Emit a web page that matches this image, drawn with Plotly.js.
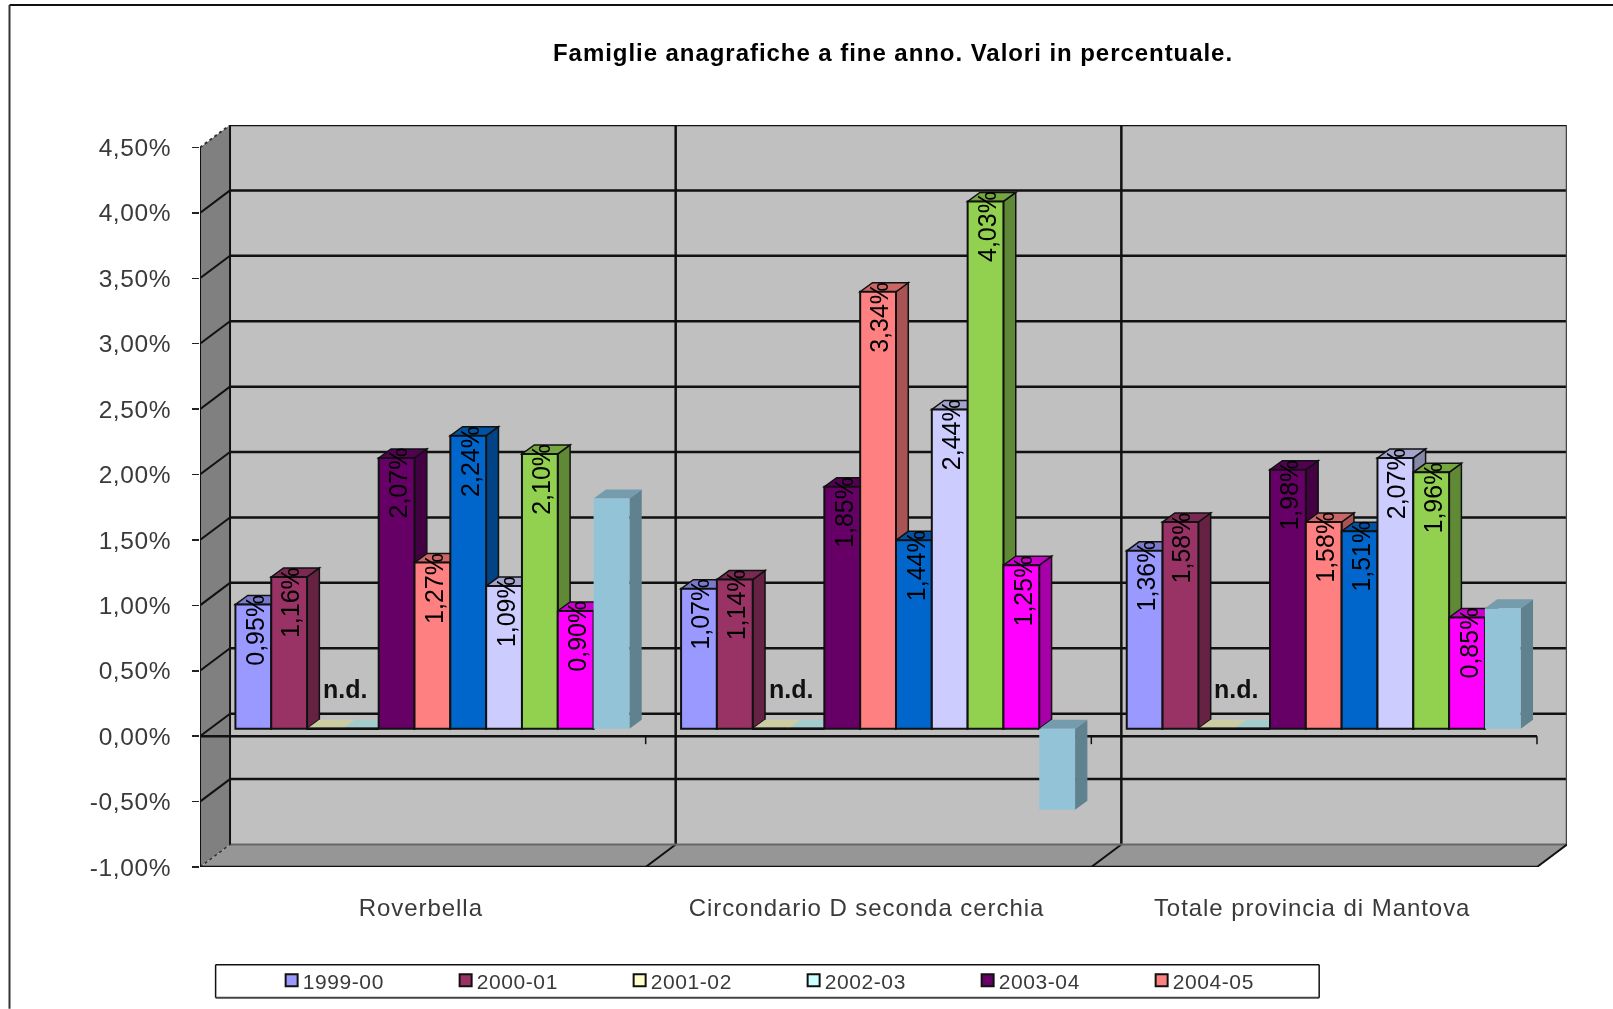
<!DOCTYPE html>
<html><head><meta charset="utf-8">
<script src="https://cdn.plot.ly/plotly-3.0.1.min.js"></script>
<style>html,body{margin:0;padding:0;background:#fff;overflow:hidden}#chart{width:1613px;height:1009px;filter:blur(0.45px)}
#chart .gtitle{letter-spacing:.95px}
#chart .xtick text{letter-spacing:.95px}
#chart .ytick text{letter-spacing:.6px}
#chart .legendtext{letter-spacing:.6px;transform:translateX(-9px)}
</style>
</head><body><div id="chart"></div>
<script>
const categories = ["Roverbella", "Circondario D seconda cerchia", "Totale provincia di Mantova"];
const seriesNames = ["1999-00","2000-01","2001-02","2002-03","2003-04","2004-05","2005-06","2006-07","2007-08","2008-09","2009-10"];
const s1999 = [0.95, 1.07, 1.36];
const s2000 = [1.16, 1.14, 1.58];
const s2001 = [0, 0, 0];
const s2002 = [0, 0, 0];
const s2003 = [2.07, 1.85, 1.98];
const s2004 = [1.27, 3.34, 1.58];
const s2005 = [2.24, 1.44, 1.51];
const s2006 = [1.09, 2.44, 2.07];
const s2007 = [2.10, 4.03, 1.96];
const s2008 = [0.90, 1.25, 0.85];
const s2009 = [1.76, -0.62, 0.92];
const allSeries = [s1999,s2000,s2001,s2002,s2003,s2004,s2005,s2006,s2007,s2008,s2009];
const frontColors = ["#9999FF","#993366","#FFFFCC","#CCFFFF","#660066","#FF8080","#0066CC","#CCCCFF","#92D050","#FF00FF","#92C3D7"];
const labelled = [true,true,false,false,true,true,true,true,true,true,false];
const yTicks = [-1,-0.5,0,0.5,1,1.5,2,2.5,3,3.5,4,4.5];
const yTickText = ["-1,00%","-0,50%","0,00%","0,50%","1,00%","1,50%","2,00%","2,50%","3,00%","3,50%","4,00%","4,50%"];
const naLabel = "n.d.";
const chartTitle = "Famiglie anagrafiche a fine anno. Valori in percentuale.";

// layout geometry (pixels)
const W=1613,H=1009,L=200.4,R=1566.7,T=125,B=867.3,FR=1536.7;
const catPx=(FR-L)/3, valPx=(B-(T+22.5))/5.5;
const wallDx=R-FR, wallDy=22.5;
const xu=p=>p/catPx, yu=p=>p/valPx;
const xLo=-0.5, xHi=2.5+xu(wallDx), yLo=-1, yHi=4.5+yu(wallDy);
const planeY=yu(7.5);
const barW=xu(35.8), barStart=xu(35.4)-0.5, depthX=xu(12.3), depthY=yu(9);

function shade(hex,f){const n=parseInt(hex.slice(1),16);
  return "rgb("+[(n>>16)&255,(n>>8)&255,n&255].map(c=>Math.round(c*f)).join(",")+")";}
function poly(pts,fill,lineColor,lw,dash){return {type:"path",xref:"x",yref:"y",layer:"below",
  path:"M"+pts.map(p=>p[0].toFixed(5)+" "+p[1].toFixed(5)).join(" L")+" Z",
  fillcolor:fill,line:{color:lineColor||fill,width:lw===undefined?1:lw,dash:dash||"solid"}};}
function seg(x0,y0,x1,y1,c,w,dash){return {type:"line",xref:"x",yref:"y",layer:"below",x0,y0,x1,y1,line:{color:c,width:w,dash:dash||"solid"}};}
function pseg(x0,y0,x1,y1,c,w){return {type:"line",xref:"paper",yref:"paper",layer:"above",x0:(x0-L)/(R-L),x1:(x1-L)/(R-L),
  y0:(B-y0)/(B-T),y1:(B-y1)/(B-T),line:{color:c,width:w}};}

const wdx=xu(wallDx), wdy=yu(wallDy);
const shapes=[];
// left wall, floor, back wall
shapes.push(poly([[xLo,yLo],[xLo,4.5],[xLo+wdx,4.5+wdy],[xLo+wdx,yLo+wdy]],"#808080","#808080",0));
shapes.push(poly([[xLo,yLo],[2.5,yLo],[xHi,yLo+wdy],[xLo+wdx,yLo+wdy]],"#969696","#969696",0));
shapes.push(poly([[xLo+wdx,yLo+wdy],[xHi,yLo+wdy],[xHi,4.5+wdy],[xLo+wdx,4.5+wdy]],"#C0C0C0","#C0C0C0",0));
// horizontal gridlines on the walls
yTicks.forEach(t=>{
  if(t===yLo){return;}
  shapes.push(seg(xLo+wdx,t+wdy,xHi,t+wdy,"#111",2.5));
  shapes.push(seg(xLo,t,xLo+wdx,t+wdy,t===4.5?"#333":"#111",2,t===4.5?"dot":"solid"));
});
// vertical gridlines, floor slants
[0.5,1.5].forEach(c=>{
  shapes.push(seg(c+wdx,yLo+wdy,c+wdx,4.5+wdy,"#111",2.5));
  shapes.push(seg(c,yLo,c+wdx,yLo+wdy,"#111",2));
});
shapes.push(seg(xLo+wdx,yLo+wdy,xHi,yLo+wdy,"#666",2));
shapes.push(seg(xLo+wdx,yLo+wdy,xLo+wdx,4.5+wdy,"#111",2));
shapes.push(seg(xHi,yLo+wdy,xHi,4.5+wdy,"#444",2.5));
shapes.push(seg(xLo,yLo,xLo+wdx,yLo+wdy,"#333",1.5,"dot"));
shapes.push(seg(2.5,yLo,xHi,yLo+wdy,"#111",2));
shapes.push(seg(xLo,yLo,2.5,yLo,"#111",2.5));
shapes.push(seg(xLo,yLo,xLo,4.5,"#111",2));
// value-zero axis with category ticks on the front plane
shapes.push(seg(xLo,0,2.5,0,"#111",2.5));
[0.5,1.5,2.5].forEach(c=>shapes.push(seg(c,0,c,-yu(8),"#111",1.5)));

// depth faces of each bar, in drawing order; front faces are the bar traces
const barTraces=[];
allSeries.forEach((vals,i)=>{
  const off=barStart+i*barW;
  const col=frontColors[i], outlined=i<10;
  const edge=outlined?"#111":"#A9CEDD";
  vals.forEach((v,c)=>{
    const x0=c+off, x1=x0+barW;
    const top=planeY+Math.max(v,0), bot=planeY+Math.min(v,0);
    const sideC=shade(col,0.66), topC=shade(col,0.8);
    if(top>bot) shapes.push(poly([[x1,bot],[x1,top],[x1+depthX,top+depthY],[x1+depthX,bot+depthY]],
      sideC,outlined?"#111":sideC,outlined?1.5:0));
    shapes.push(poly([[x0,top],[x1,top],[x1+depthX,top+depthY],[x0+depthX,top+depthY]],
      topC,(outlined&&top>bot)?"#111":topC,(outlined&&top>bot)?1.5:0));
    if(top===bot) shapes.push(seg(x0,top,x1,top,"#111",2.5));
  });
  barTraces.push({type:"bar",name:seriesNames[i],x:[0,1,2],y:vals,base:[planeY,planeY,planeY],
    offset:off,width:barW,showlegend:i<6,
    marker:{color:col,line:{color:edge,width:outlined?2:0}},hoverinfo:"name+y"});
});

// rotated value labels and n.d. marks
const annotations=[];
allSeries.forEach((vals,i)=>{
  if(!labelled[i])return;
  vals.forEach((v,c)=>{
    annotations.push({x:c+barStart+(i+0.5)*barW+xu(1.5),y:planeY+v+yu(11),xref:"x",yref:"y",
      text:v.toFixed(2).replace(".",",")+"%",textangle:-90,showarrow:false,
      xanchor:"center",yanchor:"top",font:{family:"Liberation Sans, Arial, sans-serif",size:25,color:"#000"},borderpad:0});
  });
});
categories.forEach((_,c)=>annotations.push({x:c+barStart+3*barW+xu(2),y:planeY+0.3,xref:"x",yref:"y",text:naLabel,showarrow:false,
  xanchor:"center",yanchor:"middle",font:{family:"Liberation Sans, Arial, sans-serif",size:25,color:"#111",weight:"bold"}}));

// outer frame and legend box
const frame=[pseg(10,5,W,5,"#111",2),pseg(10,5,10,H,"#333",2)];
const lbox=[pseg(216,965,1319,965,"#111",1.5),pseg(216,998,1319,998,"#444",2),pseg(216,965,216,998,"#111",1.5),pseg(1319,965,1319,998,"#111",1.5)];

Plotly.newPlot("chart",barTraces,{
  width:W,height:H,paper_bgcolor:"#fff",plot_bgcolor:"rgba(0,0,0,0)",
  margin:{l:L,r:W-R,t:T,b:H-B,pad:0,autoexpand:false},
  title:{text:chartTitle,x:893/W,xanchor:"center",y:1-53/H,yanchor:"middle",
    font:{family:"Liberation Sans, Arial, sans-serif",size:24,color:"#000",weight:"bold"}},
  barmode:"overlay",
  xaxis:{range:[xLo,xHi],tickvals:[0,1,2].map(c=>c-xu(2)),ticktext:categories,showgrid:false,zeroline:false,showline:false,ticks:"",
    ticklabelstandoff:24,tickfont:{family:"Liberation Sans, Arial, sans-serif",size:24,color:"#3a3a3a"}},
  yaxis:{range:[yLo,yHi],tickvals:yTicks,ticktext:yTickText,showgrid:false,zeroline:false,showline:false,
    ticks:"outside",ticklen:7,tickwidth:1.5,tickcolor:"#222",ticklabelstandoff:16,
    tickfont:{family:"Liberation Sans, Arial, sans-serif",size:24.5,color:"#3a3a3a"}},
  legend:{orientation:"h",x:(272-L)/(R-L),y:(B-981)/(B-T),xanchor:"left",yanchor:"middle",entrywidth:129,entrywidthmode:"pixels",
    traceorder:"normal",bgcolor:"rgba(0,0,0,0)",font:{family:"Liberation Sans, Arial, sans-serif",size:21,color:"#3a3a3a"},itemwidth:30},
  shapes:shapes.concat(frame,lbox),annotations
},{displayModeBar:false,staticPlot:true});
</script></body></html>
